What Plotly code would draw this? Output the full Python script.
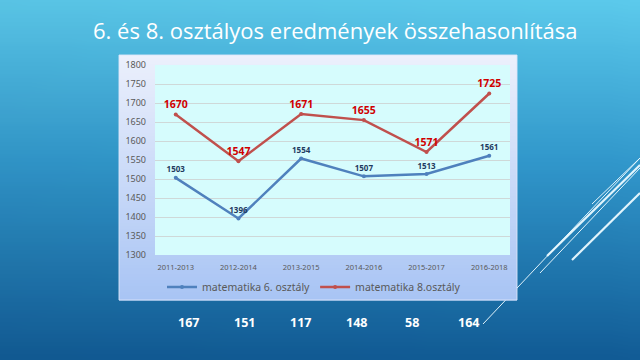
import base64, struct, zlib
import plotly.graph_objects as go

# ---------------- data ----------------
categories = ["2011-2013", "2012-2014", "2013-2015", "2014-2016", "2015-2017", "2016-2018"]
math6 = [1503, 1396, 1554, 1507, 1513, 1561]
math8 = [1670, 1547, 1671, 1655, 1571, 1725]
series6_name = "matematika 6. osztály"
series8_name = "matematika 8.osztály"
bottom_counts = [167, 151, 117, 148, 58, 164]
title_text = "6. és 8. osztályos eredmények összehasonlítása"

# ---------------- geometry helpers ----------------
W, H = 640, 360
L, R, T, B = 155, 130, 65, 105
PW, PH = W - L - R, H - T - B


def px(x):
    return (x - L) / PW


def py(y):
    return (H - B - y) / PH


def lerp(c1, c2, t):
    return tuple(int(round(a + (b - a) * t)) for a, b in zip(c1, c2))


def grad(stops, t):
    for (t0, c0), (t1, c1) in zip(stops, stops[1:]):
        if t <= t1:
            return lerp(c0, c1, (t - t0) / (t1 - t0) if t1 > t0 else 0)
    return stops[-1][1]


# ---------------- background gradient PNG ----------------
def make_png(w, h, pixel):
    raw = b""
    for j in range(h):
        row = b"\x00"
        for i in range(w):
            row += bytes(pixel(i, j))
        raw += row

    def chunk(tag, data):
        c = struct.pack(">I", len(data)) + tag + data
        return c + struct.pack(">I", zlib.crc32(tag + data) & 0xFFFFFFFF)

    png = b"\x89PNG\r\n\x1a\n"
    png += chunk(b"IHDR", struct.pack(">IIBBBBB", w, h, 8, 2, 0, 0, 0))
    png += chunk(b"IDAT", zlib.compress(raw, 9))
    png += chunk(b"IEND", b"")
    return "data:image/png;base64," + base64.b64encode(png).decode()


bg_stops = [(0.0, (92, 202, 236)), (0.45, (50, 152, 204)), (1.0, (18, 92, 150))]
GW, GH = 32, 90


def bg_pixel(i, j):
    t = j / (GH - 1)
    c = grad(bg_stops, t)
    f = 0.97 + 0.03 * (i / (GW - 1))
    return tuple(min(255, int(v * f)) for v in c)


bg_src = make_png(GW, GH, bg_pixel)

fig = go.Figure()

fig.add_trace(go.Scatter(
    x=categories, y=math6, name=series6_name,
    mode="lines+markers+text",
    line=dict(color="#4f81bd", width=2.5),
    marker=dict(color="#4f81bd", size=4),
    text=[str(v) for v in math6], textposition="top center",
    textfont=dict(family="Noto Sans", size=8, color="#1f3a5f", weight="bold"),
    cliponaxis=False,
))
fig.add_trace(go.Scatter(
    x=categories, y=math8, name=series8_name,
    mode="lines+markers+text",
    line=dict(color="#c0504d", width=2.5),
    marker=dict(color="#c0504d", size=4),
    text=[str(v) for v in math8], textposition="top center",
    textfont=dict(family="Noto Sans", size=10.5, color="#d00000", weight="bold"),
    cliponaxis=False,
))

shapes = []
# diagonal decorative lines (behind the chart box)
diag = [
    ((483, 324), (640, 158), 1.0),
    ((547, 256), (640, 165), 2.2),
    ((540, 273), (640, 168), 1.0),
    ((592, 204), (640, 158), 1.0),
    ((572, 260), (640, 193), 2.2),
]
for (x0, y0), (x1, y1), w in diag:
    shapes.append(dict(type="line", xref="paper", yref="paper",
                       x0=px(x0), y0=py(y0), x1=px(x1), y1=py(y1),
                       line=dict(color="rgba(235,250,255,0.95)", width=w), layer="below"))

# chart box gradient strips
box_x0, box_x1, box_y0, box_y1 = 119, 517, 55, 300
box_stops = [(0.0, (236, 240, 252)), (1.0, (168, 196, 244))]
strip = 3
y = box_y0
while y < box_y1:
    y2 = min(y + strip, box_y1)
    t = ((y + y2) / 2 - box_y0) / (box_y1 - box_y0)
    c = grad(box_stops, t)
    shapes.append(dict(type="rect", xref="paper", yref="paper",
                       x0=px(box_x0), x1=px(box_x1), y0=py(y2 + 0.5), y1=py(y),
                       fillcolor="rgb(%d,%d,%d)" % c, line=dict(width=0), layer="below"))
    y = y2
shapes.append(dict(type="rect", xref="paper", yref="paper",
                   x0=px(box_x0), x1=px(box_x1), y0=py(box_y1), y1=py(box_y0),
                   fillcolor="rgba(0,0,0,0)", line=dict(color="rgba(220,230,250,0.9)", width=1),
                   layer="below"))
# plot area
shapes.append(dict(type="rect", xref="paper", yref="paper", x0=0, x1=1, y0=0, y1=1,
                   fillcolor="#d6fcfd", line=dict(width=0), layer="below"))

annotations = [dict(
    text=title_text, xref="paper", yref="paper", x=px(335), y=py(30),
    xanchor="center", yanchor="middle", showarrow=False,
    font=dict(family="Open Sans", size=22, color="white"),
)]
for i, v in enumerate(bottom_counts):
    annotations.append(dict(
        text=str(v), xref="paper", yref="paper", x=px(188 + 56 * i), y=py(322),
        xanchor="center", yanchor="middle", showarrow=False,
        font=dict(family="Noto Sans", size=12.5, color="white", weight="bold"),
    ))

fig.update_layout(
    width=W, height=H,
    margin=dict(l=L, r=R, t=T, b=B),
    paper_bgcolor="#1f6ea8",
    plot_bgcolor="rgba(0,0,0,0)",
    images=[dict(source=bg_src, xref="paper", yref="paper",
                 x=px(0), y=py(0), sizex=W / PW, sizey=H / PH,
                 sizing="stretch", xanchor="left", yanchor="top", layer="below")],
    shapes=shapes,
    annotations=annotations,
    showlegend=True,
    legend=dict(orientation="h", x=px(314), y=py(287), xanchor="center", yanchor="middle",
                font=dict(family="Noto Sans", size=10.5, color="#595959"),
                bgcolor="rgba(0,0,0,0)", itemwidth=30, traceorder="normal"),
    xaxis=dict(showgrid=False, showline=False, zeroline=False, ticks="",
               tickfont=dict(family="Noto Sans", size=7.5, color="#595959"),
               ticklabelstandoff=6, fixedrange=True),
    yaxis=dict(range=[1300, 1800], dtick=50, showgrid=True, gridcolor="#cfd8d8", gridwidth=1,
               showline=False, zeroline=False, ticks="",
               tickfont=dict(family="Noto Sans", size=9, color="#595959"),
               ticklabelstandoff=8, fixedrange=True),
)

fig.write_html(
    "out.html",
    config={"displayModeBar": False},
    post_script="document.documentElement.style.margin='0';document.body.style.margin='0';"
                "document.body.style.overflow='hidden';",
)
